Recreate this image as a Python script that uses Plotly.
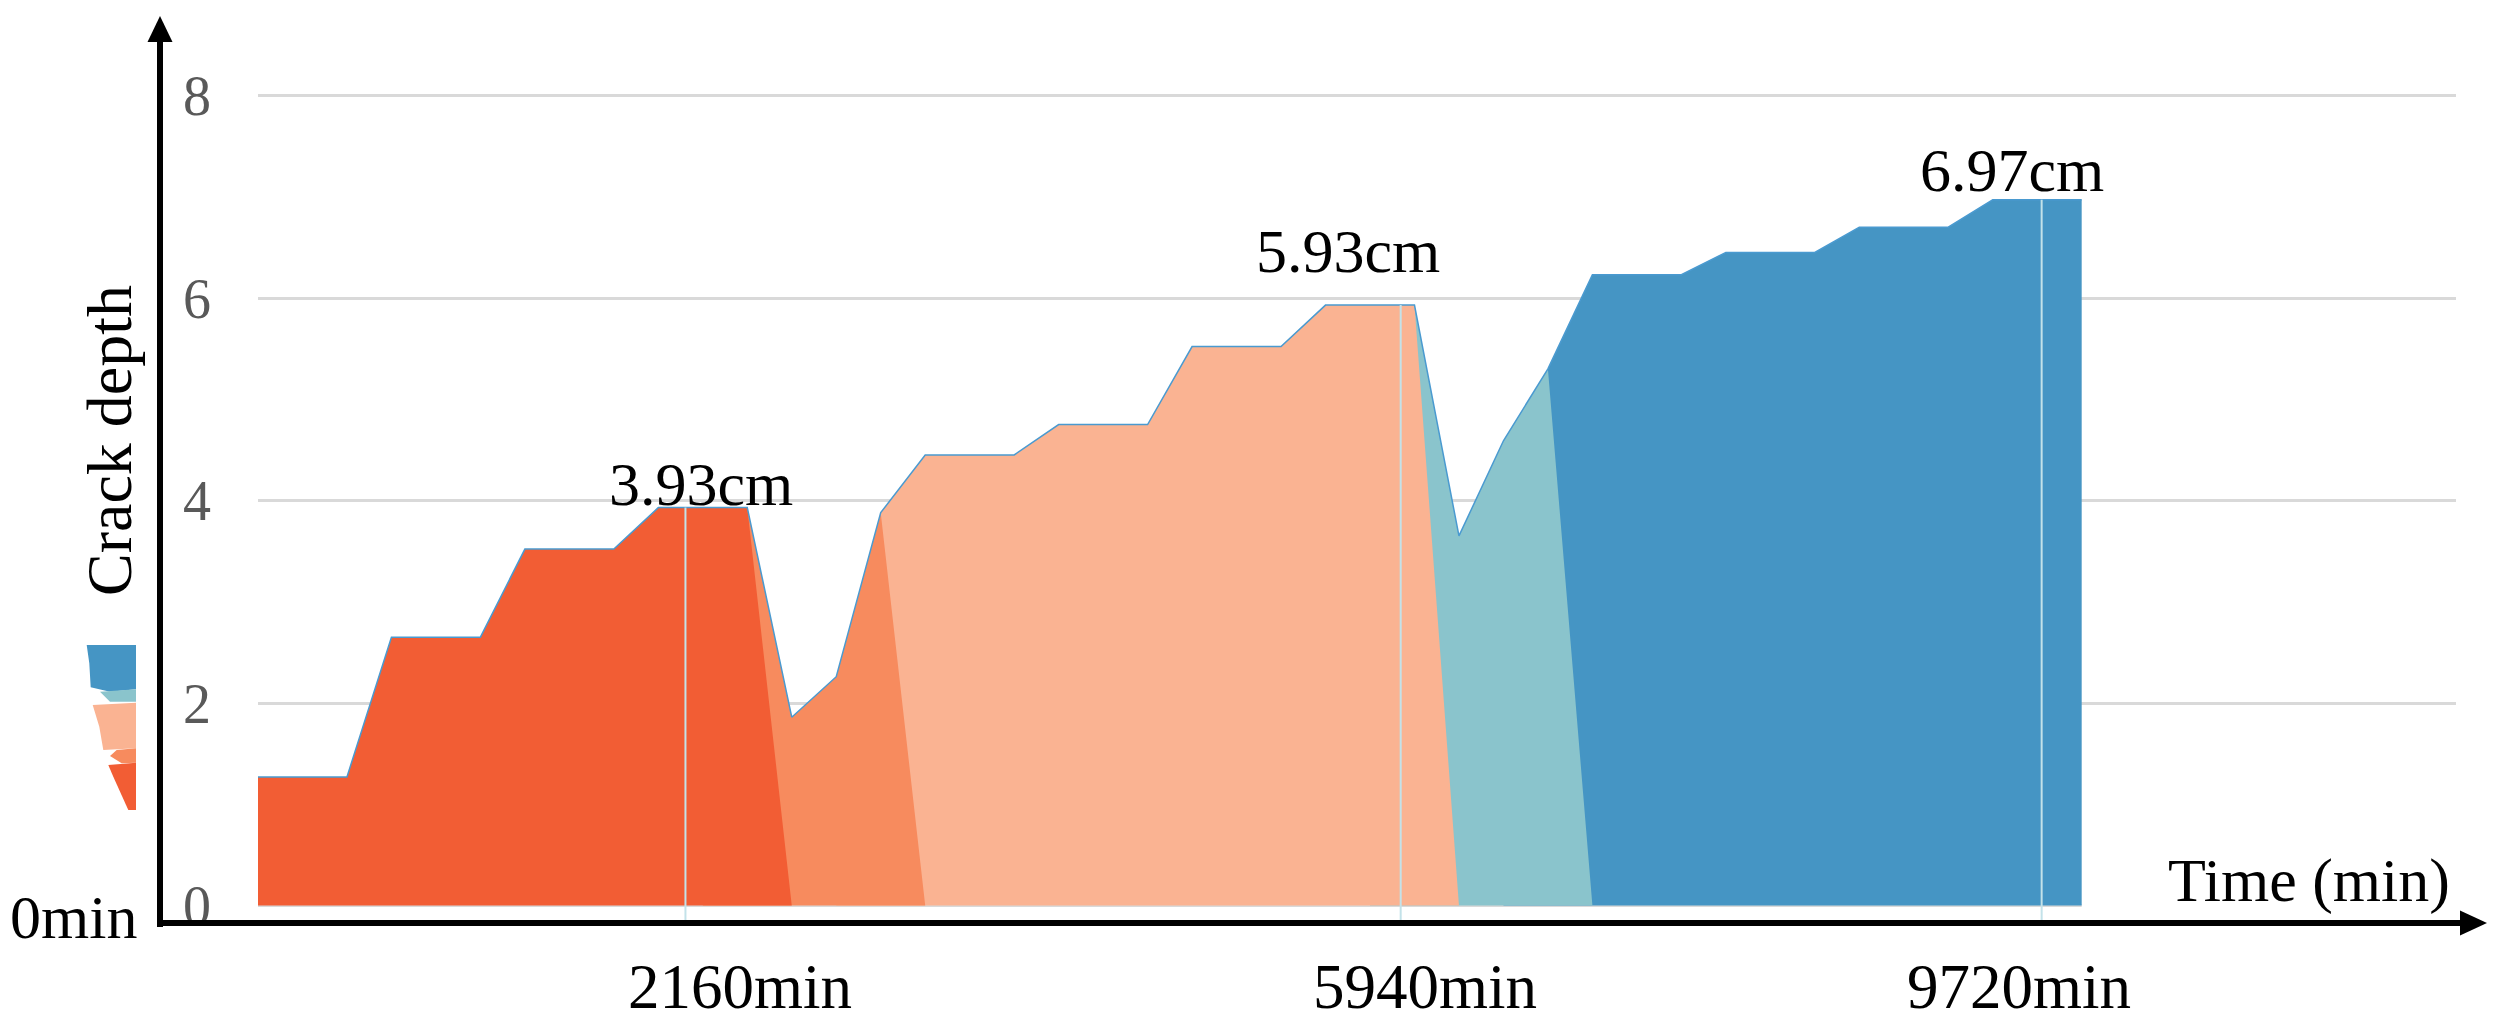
import plotly.graph_objects as go

# ---------------- data ----------------
# crack depth (cm) at each recorded step (category index 0..41)
depth = [1.27, 1.27, 1.27, 2.65, 2.65, 2.65, 3.52, 3.52, 3.52, 3.93, 3.93, 3.93,
         1.86, 2.26, 3.88,
         4.45, 4.45, 4.45, 4.75, 4.75, 4.75, 5.52, 5.52, 5.52, 5.93, 5.93, 5.93,
         3.65, 4.59, 5.30,
         6.23, 6.23, 6.23, 6.45, 6.45, 6.45, 6.70, 6.70, 6.70, 6.97, 6.97, 6.97]
steps = list(range(len(depth)))

# stages: (first index, last index) of each coloured area
stage_start = [0, 11, 14, 26, 29]
stage_end = [11, 14, 26, 29, 41]
stage_colors = ["#F25D34", "#F78B5E", "#FAB392", "#8AC4CC", "#4595C4"]

# peak labels
peak_labels = ["3.93cm", "5.93cm", "6.97cm"]
peak_values = [3.93, 5.93, 6.97]
peak_label_pos = [9.96, 24.5, 39.44]

# time markers
time_labels = ["2160min", "5940min", "9720min"]
time_marker_pos = [9.61, 25.69, 40.1]
time_label_pos = [10.84, 26.24, 39.59]

y_ticks = [0, 2, 4, 6, 8]

# ---------------- layout geometry ----------------
W, H = 2500, 1028
L, R, T, B = 258, 44, 20, 88
PW, PH = W - L - R, H - T - B
STEP = 44.48
X_RANGE = [0, PW / STEP]
Y0PX, UNIT = 905.5, 101.25
Y_RANGE = [-(H - B - Y0PX) / UNIT, (Y0PX - T) / UNIT]


def px(x):
    return (x - L) / PW


def py(y):
    return (H - B - y) / PH


FONT = "Liberation Serif, Times New Roman, serif"

fig = go.Figure()

# category axis baseline (only under the data range)
fig.add_trace(go.Scatter(x=[steps[0], steps[-1]], y=[0, 0], mode="lines",
                         line=dict(color="#D9D9D9", width=3),
                         hoverinfo="skip", showlegend=False))

# coloured areas (drawn last-stage first so earlier stages sit on top)
for s, e, c in reversed(list(zip(stage_start, stage_end, stage_colors))):
    xs, ys = [], []
    if s > 0:
        xs.append(steps[s - 1]); ys.append(0)
    xs += steps[s:e + 1]; ys += depth[s:e + 1]
    if e < len(depth) - 1:
        xs.append(steps[e + 1]); ys.append(0)
    fig.add_trace(go.Scatter(x=xs, y=ys, mode="none", fill="tozeroy",
                             fillcolor=c, hoverinfo="skip", showlegend=False))

# thin outline along the top
fig.add_trace(go.Scatter(x=steps, y=depth, mode="lines",
                         line=dict(color="#4A9AD0", width=1.5),
                         hoverinfo="skip", showlegend=False))

# vertical time markers
for xm, pv in zip(time_marker_pos, peak_values):
    fig.add_trace(go.Scatter(x=[xm, xm], y=[-0.17, pv], mode="lines",
                             line=dict(color="#C3E2E9", width=2),
                             hoverinfo="skip", showlegend=False))

annotations = []
peak_shift = [23.6, 54.4, 29.8]
for lab, xv, yv, sh in zip(peak_labels, peak_label_pos, peak_values, peak_shift):
    annotations.append(dict(x=xv, y=yv, xref="x", yref="y", text=lab, showarrow=False,
                            yshift=sh, yanchor="middle", xanchor="center",
                            font=dict(family=FONT, size=62, color="black")))
for lab, xv in zip(time_labels, time_label_pos):
    annotations.append(dict(x=xv, y=py(987), xref="x", yref="paper", text=lab,
                            showarrow=False, yanchor="middle", xanchor="center",
                            font=dict(family=FONT, size=63, color="black")))
annotations.append(dict(x=px(73), y=py(917), xref="paper", yref="paper", text="0min",
                        showarrow=False, xanchor="center", yanchor="middle",
                        font=dict(family=FONT, size=62, color="black")))
annotations.append(dict(x=px(2309), y=py(880), xref="paper", yref="paper", text="Time (min)",
                        showarrow=False, xanchor="center", yanchor="middle",
                        font=dict(family=FONT, size=62, color="black")))
annotations.append(dict(x=px(110), y=py(441), xref="paper", yref="paper", text="Crack depth",
                        showarrow=False, textangle=-90, xanchor="center", yanchor="middle",
                        font=dict(family=FONT, size=64, color="black")))

shapes = []
# axis lines with arrow heads
shapes.append(dict(type="line", xref="paper", yref="paper", x0=px(160), x1=px(160),
                   y0=py(927), y1=py(38), line=dict(color="black", width=6)))
shapes.append(dict(type="path", xref="paper", yref="paper",
                   path=f"M {px(160)} {py(16)} L {px(147.5)} {py(42)} L {px(172.5)} {py(42)} Z",
                   fillcolor="black", line=dict(color="black", width=0)))
shapes.append(dict(type="line", xref="paper", yref="paper", x0=px(157), x1=px(2462),
                   y0=py(923), y1=py(923), line=dict(color="black", width=6)))
shapes.append(dict(type="path", xref="paper", yref="paper",
                   path=f"M {px(2487)} {py(923)} L {px(2460)} {py(910.5)} L {px(2460)} {py(935.5)} Z",
                   fillcolor="black", line=dict(color="black", width=0)))

# small decorative legend swatch at left
swatch = [
    ([(86.7, 645), (136, 645), (136, 689.3), (110, 691.7), (90.7, 687.3), (89.3, 663.3)], stage_colors[4]),
    ([(100, 691.7), (136, 689.3), (136, 701.7), (110, 701.7)], stage_colors[3]),
    ([(92.7, 705), (136, 702.7), (136, 748.3), (103.3, 750), (99.3, 726.7)], stage_colors[2]),
    ([(116.7, 750), (136, 748.3), (136, 762.7), (121.7, 763.3), (110, 756)], stage_colors[1]),
    ([(108.3, 765), (136, 762.7), (136, 810), (128.3, 810), (113.3, 776.7)], stage_colors[0]),
]
for pts, col in swatch:
    path = "M " + " L ".join(f"{px(a)} {py(b)}" for a, b in pts) + " Z"
    shapes.append(dict(type="path", xref="paper", yref="paper", path=path,
                       fillcolor=col, line=dict(width=0)))

fig.update_layout(
    width=W, height=H, autosize=False,
    margin=dict(l=L, r=R, t=T, b=B, pad=0),
    paper_bgcolor="white", plot_bgcolor="white",
    showlegend=False,
    xaxis=dict(range=X_RANGE, showgrid=False, zeroline=False, showline=False,
               showticklabels=False, ticks=""),
    yaxis=dict(range=Y_RANGE, tickvals=y_ticks, showgrid=True, gridcolor="#D9D9D9",
               gridwidth=3, zeroline=True, zerolinecolor="rgba(0,0,0,0)", zerolinewidth=1,
               showline=False, ticks="", ticklabelstandoff=46,
               tickfont=dict(family=FONT, size=56, color="#595959")),
    annotations=annotations,
    shapes=shapes,
)

fig.write_html("out.html", config={"displayModeBar": False},
               post_script="document.body.style.margin='0';document.body.style.padding='0';")
